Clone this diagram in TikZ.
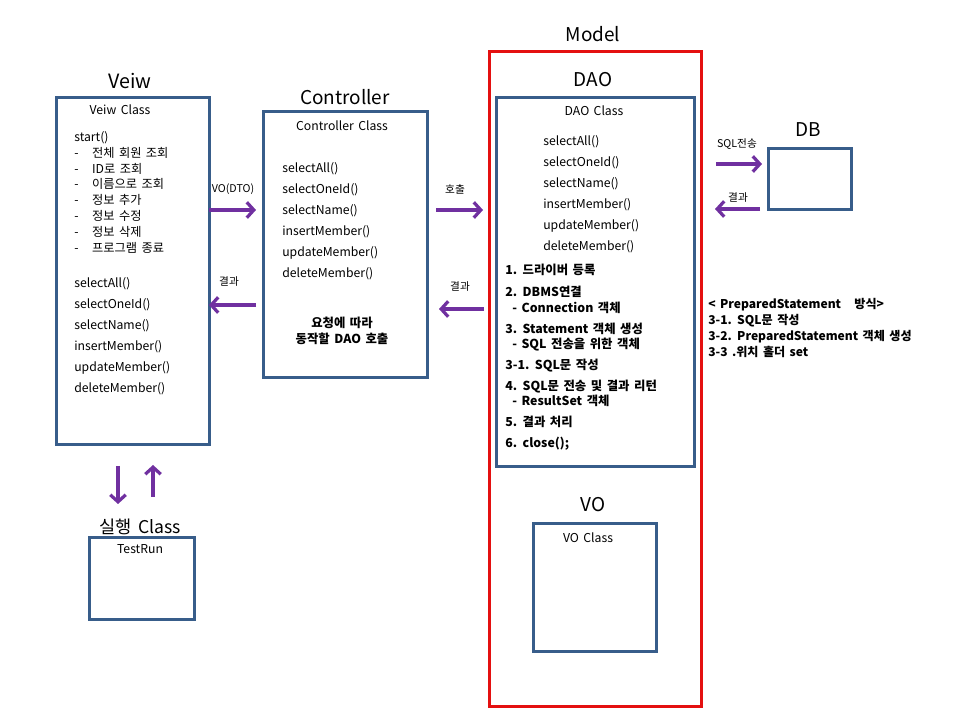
\documentclass[tikz,border=0pt]{standalone}
\usepackage{fontspec}
\setmainfont[WordSpace=1.6]{Noto Sans CJK KR}
\usetikzlibrary{arrows.meta, positioning}

\definecolor{boxblue}{RGB}{56,93,138}
\definecolor{flowpurple}{RGB}{112,48,160}
\definecolor{modelred}{RGB}{228,16,16}

\newcommand{\listdash}[1]{\makebox[12.7pt][l]{-}#1}

\begin{document}
\begin{tikzpicture}[x=0.025cm, y=-0.025cm]
		\tikzset{
			box/.style={rectangle, draw=boxblue, line width=2pt, inner sep=0pt, anchor=north west},
			modelbox/.style={rectangle, draw=modelred, line width=2pt, inner sep=0pt, anchor=north west},
			heading/.style={font=\fontsize{13.5}{16}\selectfont, inner sep=0pt},
			txt/.style={font=\fontsize{8.7}{11.3}\selectfont, inner sep=0pt},
			methods/.style={font=\fontsize{8.7}{14.9}\selectfont, inner sep=0pt, align=left, anchor=north west},
			steps/.style={font=\fontsize{8.8}{11}\selectfont\bfseries, inner sep=0pt, align=left, anchor=north west},
			note/.style={font=\fontsize{7.6}{9}\selectfont, inner sep=0pt},
			flow/.style={-{Straight Barb[length=5pt, width=11pt]}, color=flowpurple, line width=2.3pt}
		}
		\useasboundingbox (0,0) rectangle (960,720);

		% boxes
		\node[box, minimum width=3.825cm, minimum height=8.675cm] (view) at (55,96) {};
		\node[box, minimum width=4.1cm, minimum height=6.65cm] (ctrl) at (262,110) {};
		\node[modelbox, minimum width=5.3cm, minimum height=16.375cm] (model) at (488,50) {};
		\node[box, minimum width=4.95cm, minimum height=9.225cm] (dao) at (495,96) {};
		\node[box, minimum width=3.075cm, minimum height=3.2cm] (vo) at (532,522) {};
		\node[box, minimum width=2.075cm, minimum height=1.525cm] (db) at (767,147) {};
		\node[box, minimum width=2.625cm, minimum height=2.05cm] (testrun) at (88,536) {};

		% titles
		\node[heading, font=\fontsize{14}{16}\selectfont] (viewtitle) at (130,81) {Veiw};
		\node[heading] (ctrltitle) at (345,97) {Controller};
		\node[heading] (modeltitle) at (593,34) {Model};
		\node[heading] (daotitle) at (593,80) {DAO};
		\node[heading] (votitle) at (593,505) {VO};
		\node[heading] (dbtitle) at (808,130) {DB};
		\node[heading, font=\fontsize{12.5}{15}\selectfont] (runtitle) at (140,527) {실행 Class};

		% class names
		\node[txt] (viewclass) at (120,110) {Veiw Class};
		\node[txt] (ctrlclass) at (342,126) {Controller Class};
		\node[txt] (daoclass) at (594,111) {DAO Class};
		\node[txt] (voclass) at (588,538) {VO Class};
		\node[txt] (runclass) at (140,549) {TestRun};

		% box contents
		\node[txt, align=left, anchor=north west] (viewbody) at (74,131) {start()\\
			\listdash{전체 회원 조회}\\
			\listdash{ID로 조회}\\
			\listdash{이름으로 조회}\\
			\listdash{정보 추가}\\
			\listdash{정보 수정}\\
			\listdash{정보 삭제}\\
			\listdash{프로그램 종료}\\[13.5pt]
			selectAll()\\[3.6pt]
			selectOneId()\\[3.6pt]
			selectName()\\[3.6pt]
			insertMember()\\[3.6pt]
			updateMember()\\[3.6pt]
			deleteMember()};
		\node[methods] (ctrlbody) at (282,162) {selectAll()\\ selectOneId()\\ selectName()\\ insertMember()\\ updateMember()\\ deleteMember()};
		\node[txt, font=\fontsize{8.8}{11.3}\selectfont\bfseries, align=center] (ctrlnote) at (342,331) {요청에 따라\\ 동작할 DAO 호출};
		\node[methods] (daobody) at (543,135) {selectAll()\\ selectOneId()\\ selectName()\\ insertMember()\\ updateMember()\\ deleteMember()};
		\node[steps] (daosteps) at (505,264) {1. 드라이버 등록\\[4.6pt]
			2. DBMS연결\\
			\hspace{5pt}- Connection 객체\\[3.9pt]
			3. Statement 객체 생성\\
			\hspace{5pt}- SQL 전송을 위한 객체\\[3.9pt]
			3-1. SQL문 작성\\[3.9pt]
			4. SQL문 전송 및 결과 리턴\\
			\hspace{5pt}- ResultSet 객체\\[3.9pt]
			5. 결과 처리\\[3.9pt]
			6. close();};
		\node[steps, font=\fontsize{8.6}{11.3}\selectfont\bfseries] (prepnote) at (708,298) {< PreparedStatement \ \ 방식>\\
			3-1. SQL문 작성\\
			3-2. PreparedStatement 객체 생성\\
			3-3 .위치 홀더 set};

		% arrow ends
		\coordinate (reqA) at (209,210);
		\coordinate (reqB) at (256,210);
		\coordinate (resA) at (256,305);
		\coordinate (resB) at (209,305);
		\coordinate (callA) at (436,210);
		\coordinate (callB) at (483,210);
		\coordinate (retA) at (484,309);
		\coordinate (retB) at (439,309);
		\coordinate (sqlA) at (716,164);
		\coordinate (sqlB) at (762,164);
		\coordinate (dbresA) at (760,209);
		\coordinate (dbresB) at (715,209);
		\coordinate (runA) at (118,466);
		\coordinate (runB) at (118,504);
		\coordinate (backA) at (153,497);
		\coordinate (backB) at (153,465);

		\draw[flow] (reqA) to (reqB);
		\draw[flow] (resA) to (resB);
		\draw[flow] (callA) to (callB);
		\draw[flow] (retA) to (retB);
		\draw[flow] (sqlA) to (sqlB);
		\draw[flow] (dbresA) to (dbresB);
		\draw[flow] (runA) to (runB);
		\draw[flow] (backA) to (backB);

		\node[note] (reqlabel) at (233,189) {VO(DTO)};
		\node[note] (reslabel) at (229,282) {결과};
		\node[note] (calllabel) at (455,189) {호출};
		\node[note] (retlabel) at (460,287) {결과};
		\node[note] (sqllabel) at (737,144) {SQL전송};
		\node[note] (dbreslabel) at (738,198) {결과};
	\end{tikzpicture}
\end{document}
